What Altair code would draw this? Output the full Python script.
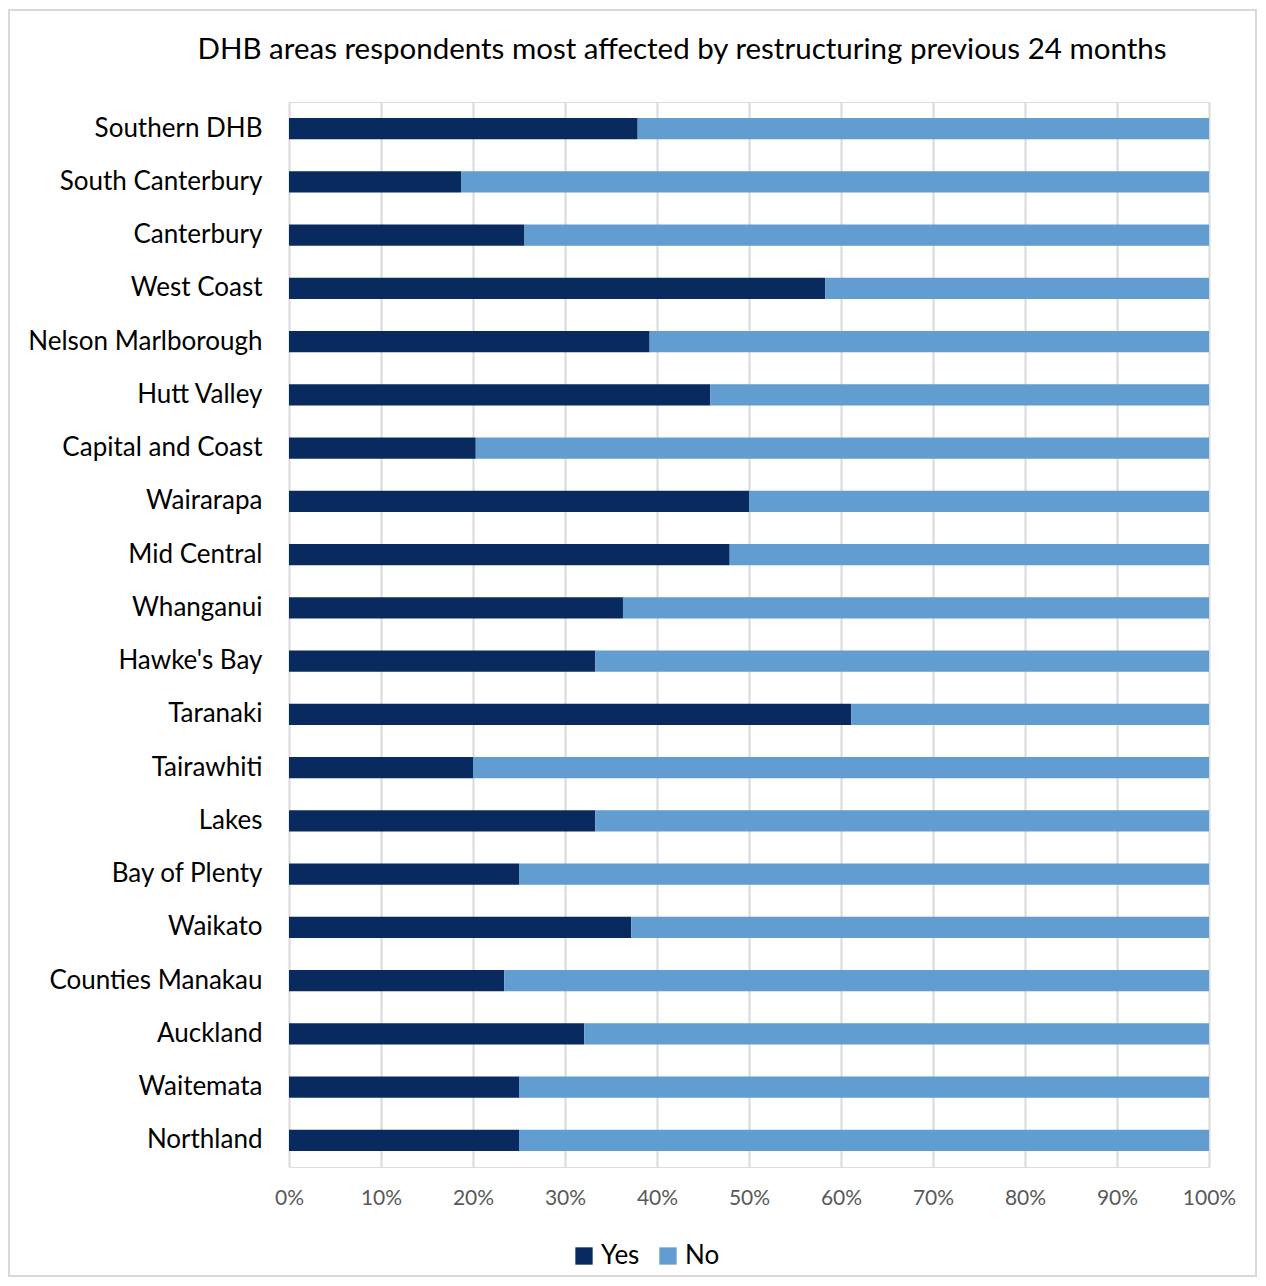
import altair as alt
import pandas as pd

title_text = "DHB areas respondents most affected by restructuring previous 24 months"
areas = ["Southern DHB", "South Canterbury", "Canterbury", "West Coast", "Nelson Marlborough",
         "Hutt Valley", "Capital and Coast", "Wairarapa", "Mid Central", "Whanganui",
         "Hawke's Bay", "Taranaki", "Tairawhiti", "Lakes", "Bay of Plenty", "Waikato",
         "Counties Manakau", "Auckland", "Waitemata", "Northland"]
yes_pct = [37.9, 18.7, 25.6, 58.3, 39.2, 45.8, 20.3, 50.0, 47.9, 36.3,
           33.3, 61.1, 20.0, 33.3, 25.0, 37.2, 23.4, 32.1, 25.0, 25.0]
no_pct = [round(100 - v, 1) for v in yes_pct]
series = ["Yes", "No"]
colors = ["#082a5e", "#619dd1"]

rows = []
for a, y, n in zip(areas, yes_pct, no_pct):
    rows.append({"area": a, "resp": "Yes", "pct": y / 100, "ord": 0})
    rows.append({"area": a, "resp": "No", "pct": n / 100, "ord": 1})
df = pd.DataFrame(rows)

FONT = "Lato"

bars = alt.Chart(df).mark_bar().encode(
    y=alt.Y("area:N", sort=areas, title=None,
            scale=alt.Scale(paddingInner=0.6, paddingOuter=0.3),
            axis=alt.Axis(domain=False, ticks=False, labelPadding=27, labelFontSize=26,
                          labelColor="#000000", labelFont=FONT, grid=False, labelLimit=400)),
    x=alt.X("pct:Q", stack="zero", title=None,
            scale=alt.Scale(domain=[0, 1], nice=False),
            axis=alt.Axis(format="%", values=[i / 10 for i in range(11)], domain=False, ticks=False,
                          grid=True, gridColor="#d9d9d9", gridWidth=2, labelFontSize=21,
                          labelColor="#595959", labelFont=FONT, labelPadding=20,
                          labelFlush=False, labelOverlap=False)),
    color=alt.Color("resp:N", scale=alt.Scale(domain=series, range=colors),
                    legend=alt.Legend(title=None, orient="none", legendX=282, legendY=1141,
                                      direction="horizontal", symbolType="square", symbolSize=300,
                                      symbolStrokeWidth=0, labelFontSize=26, labelFont=FONT,
                                      labelColor="#000000", columnPadding=15, labelOffset=4,
                                      padding=0)),
    order=alt.Order("ord:Q"),
)

one = pd.DataFrame({"t": [title_text]})

frame = alt.Chart(one).mark_rect(
    fill="transparent", stroke="#d9d9d9", strokeWidth=2, clip=False
).encode(
    x=alt.value(-280), x2=alt.value(967), y=alt.value(-92), y2=alt.value(1174)
)

title = alt.Chart(one).mark_text(
    font=FONT, fontSize=29.5, color="#000000", align="center", baseline="middle"
).encode(
    text="t:N", x=alt.value(393), y=alt.value(-52)
)

chart = alt.layer(frame, bars, title).properties(
    width=920, height=1065,
    autosize=alt.AutoSizeParams(type="none"),
    padding={"left": 281, "top": 94, "right": 48, "bottom": 110},
).configure_view(strokeWidth=0, stroke="transparent").configure(background="white")

chart.save("out.html", embed_options={"renderer": "svg", "actions": False})
